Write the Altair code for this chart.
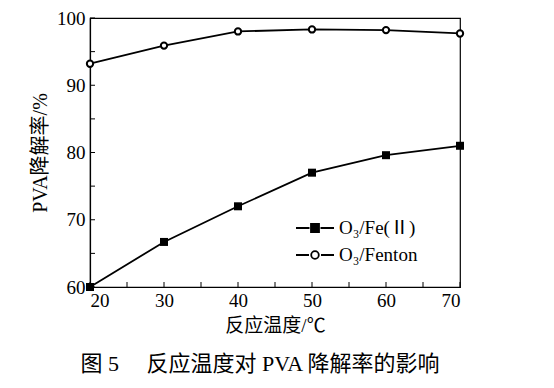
import altair as alt
import pandas as pd

temps = [20, 30, 40, 50, 60, 70]
fe2 = [60.0, 66.7, 72.0, 77.0, 79.6, 81.0]
fenton = [93.2, 95.9, 98.0, 98.3, 98.2, 97.7]
series_names = ["O₃/Fe(Ⅱ)", "O₃/Fenton"]
x_ticks = [20, 30, 40, 50, 60, 70]
x_minor = [25, 35, 45, 55, 65]
y_ticks = [60, 70, 80, 90, 100]
y_minor = [65, 75, 85, 95]

W, H = 370, 269
PL, PT = 82, 10
PR = 538 - W - PL
PB = 372 - H - PT
FONT = "Liberation Serif, Noto Sans CJK SC"

df = pd.DataFrame({
    "temp": temps * 2,
    "rate": fe2 + fenton,
    "series": [series_names[0]] * len(temps) + [series_names[1]] * len(temps),
})
xt = pd.DataFrame({"t": x_ticks + x_minor})
yt = pd.DataFrame({"t": y_ticks + y_minor})

xs = alt.Scale(domain=[20, 70], nice=False)
ys = alt.Scale(domain=[60, 100], nice=False)

x_enc = alt.X("temp:Q", scale=xs, title="反应温度/℃",
              axis=alt.Axis(values=x_ticks, ticks=False, grid=False, labelPadding=4,
                            titlePadding=6, titleFontSize=19))
y_enc = alt.Y("rate:Q", scale=ys, title="PVA降解率/%",
              axis=alt.Axis(values=y_ticks, ticks=False, grid=False, labelPadding=5,
                            titlePadding=6, titleFontSize=20))

lines = alt.Chart(df).mark_line(color="black", strokeWidth=1.8).encode(
    x=x_enc, y=y_enc, detail="series:N")

sq = alt.Chart(df).transform_filter(alt.datum.series == series_names[0]).mark_point(
    shape="square", filled=True, color="black", size=64, opacity=1).encode(x="temp:Q", y="rate:Q")
ci = alt.Chart(df).transform_filter(alt.datum.series == series_names[1]).mark_point(
    shape="circle", filled=True, fill="white", stroke="black", strokeWidth=2, size=40,
    opacity=1).encode(x="temp:Q", y="rate:Q")

sq_path = "M-1.9,0H-0.55M0.55,0H1.9M-0.4,-0.4H0.4V0.4H-0.4Z"
ci_path = "M-1.9,0H-0.6M0.6,0H1.9M-0.38,0A0.38,0.38 0 1,1 0.38,0A0.38,0.38 0 1,1 -0.38,0Z"

leg = alt.Legend(title=None, orient="none", legendX=214, legendY=199,
                 symbolSize=400, symbolStrokeColor="black", symbolStrokeWidth=1.8,
                 symbolOpacity=1, labelFont=FONT, labelFontSize=19, labelColor="black",
                 rowPadding=6, labelOffset=13)
hidden = alt.Chart(df).transform_filter("false").mark_point(
    filled=False, strokeWidth=1.8, opacity=1).encode(
    x="temp:Q", y="rate:Q",
    shape=alt.Shape("series:N", scale=alt.Scale(domain=series_names, range=[sq_path, ci_path]), legend=leg),
    fill=alt.Fill("series:N", scale=alt.Scale(domain=series_names, range=["black", "white"]), legend=leg),
    stroke=alt.Stroke("series:N", scale=alt.Scale(domain=series_names, range=["black", "black"]), legend=leg),
)

xticks = alt.Chart(xt).mark_rule(color="black", strokeWidth=1).encode(
    x=alt.X("t:Q"), y=alt.value(H), y2=alt.value(H - 5))
yticks = alt.Chart(yt).mark_rule(color="black", strokeWidth=1).encode(
    y=alt.Y("t:Q"), x=alt.value(0), x2=alt.value(5))

chart = alt.layer(lines, sq, ci, hidden, xticks, yticks).properties(
    width=W, height=H,
    autosize=alt.AutoSizeParams(type="none"),
    padding={"left": PL, "top": PT, "right": PR, "bottom": PB},
    title=alt.TitleParams("图 5　 反应温度对 PVA 降解率的影响", orient="bottom",
                          font=FONT, fontSize=22, fontWeight="normal", color="black",
                          offset=19, dx=-15),
).configure_view(stroke="black", strokeWidth=1.2).configure_axis(
    labelFont=FONT, titleFont=FONT, labelFontSize=19, titleFontSize=17,
    titleFontWeight="normal", labelColor="black", titleColor="black",
    domainColor="black", domainWidth=1.2,
)

chart.save("out.html", embed_options={"renderer": "svg", "actions": False})
